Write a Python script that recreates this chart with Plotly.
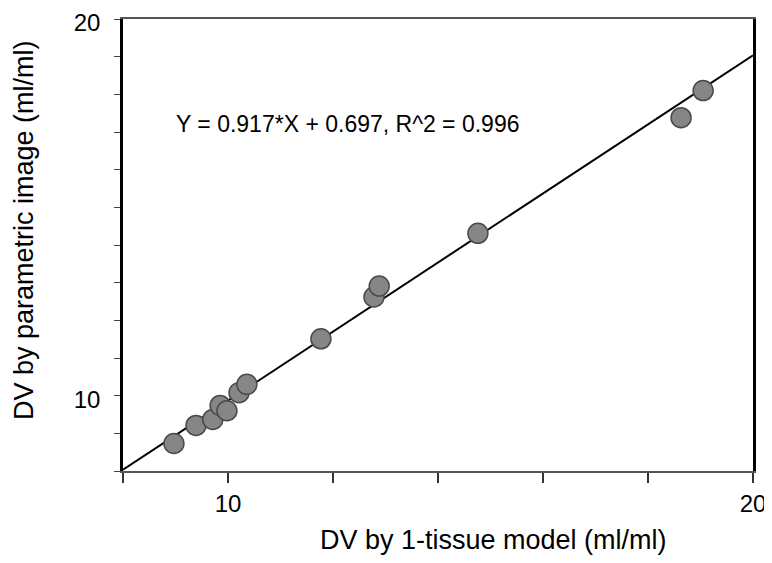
import plotly.graph_objects as go

# Data
dv_1tissue = [8.97, 9.39, 9.71, 9.85, 9.98, 10.21, 10.36, 11.77, 12.78, 12.88, 14.76, 18.63, 19.05]
dv_parametric = [8.73, 9.21, 9.37, 9.74, 9.60, 10.08, 10.30, 11.51, 12.62, 12.91, 14.31, 17.38, 18.10]

slope = 0.917
intercept = 0.697
r2 = 0.996

x_range = [8, 20]
y_range = [8, 20]
x_tickvals = [8, 10, 12, 14, 16, 18, 20]
x_ticktext = ["", "10", "", "", "", "", "20"]
y_tickvals = list(range(8, 21))
y_ticktext = ["10" if v == 10 else ("20" if v == 20 else "") for v in y_tickvals]

FONT = "Liberation Sans, Arial, sans-serif"

fit_x = x_range
fit_y = [slope * v + intercept for v in fit_x]

fig = go.Figure()
fig.add_trace(go.Scatter(
    x=fit_x, y=fit_y, mode="lines",
    line=dict(color="black", width=2),
    showlegend=False, hoverinfo="skip",
))
fig.add_trace(go.Scatter(
    x=dv_1tissue, y=dv_parametric, mode="markers",
    marker=dict(size=20, color="#868686", line=dict(color="#4a4a4a", width=1.5)),
    showlegend=False,
))

fig.add_annotation(
    x=8.98, y=17.22, xref="x", yref="y",
    text=f"Y = {slope}*X + {intercept}, R^2 = {r2}",
    showarrow=False, xanchor="left", yanchor="middle",
    font=dict(family=FONT, size=23, color="black"),
)
# axis titles (offset from the axis centre, as in the reference)
fig.add_annotation(
    x=(493 - 123) / 630, y=-(540 - 471) / 452, xref="paper", yref="paper",
    text="DV by 1-tissue model (ml/ml)", showarrow=False,
    xanchor="center", yanchor="middle",
    font=dict(family=FONT, size=27, color="black"),
)
fig.add_annotation(
    x=-(123 - 24) / 630, y=(471 - 230) / 452, xref="paper", yref="paper",
    text="DV by parametric image (ml/ml)", showarrow=False, textangle=-90,
    xanchor="center", yanchor="middle",
    font=dict(family=FONT, size=27, color="black"),
)

fig.update_layout(
    width=772, height=563,
    margin=dict(l=115, r=27, t=11, b=100, autoexpand=False),
    plot_bgcolor="white", paper_bgcolor="white",
    font=dict(family=FONT, size=24, color="black"),
    xaxis=dict(
        range=x_range, tickmode="array", tickvals=x_tickvals, ticktext=x_ticktext,
        ticks="outside", ticklen=10, tickwidth=2, tickcolor="#333",
        showline=True, linecolor="#555", linewidth=2, mirror=True,
        showgrid=False, zeroline=False, automargin=False,
        ticklabeloverflow="allow",
        tickfont=dict(family=FONT, size=24, color="black"),
    ),
    yaxis=dict(
        range=y_range, tickmode="array", tickvals=y_tickvals, ticktext=y_ticktext,
        ticks="outside", ticklen=6, tickwidth=1, tickcolor="#444",
        ticklabelstandoff=9, ticklabelshift=4, ticklabeloverflow="allow",
        showline=True, linecolor="black", linewidth=2.5, mirror=True,
        showgrid=False, zeroline=False, automargin=False,
        tickfont=dict(family=FONT, size=24, color="black"),
    ),
)

fig.write_html("out.html")
